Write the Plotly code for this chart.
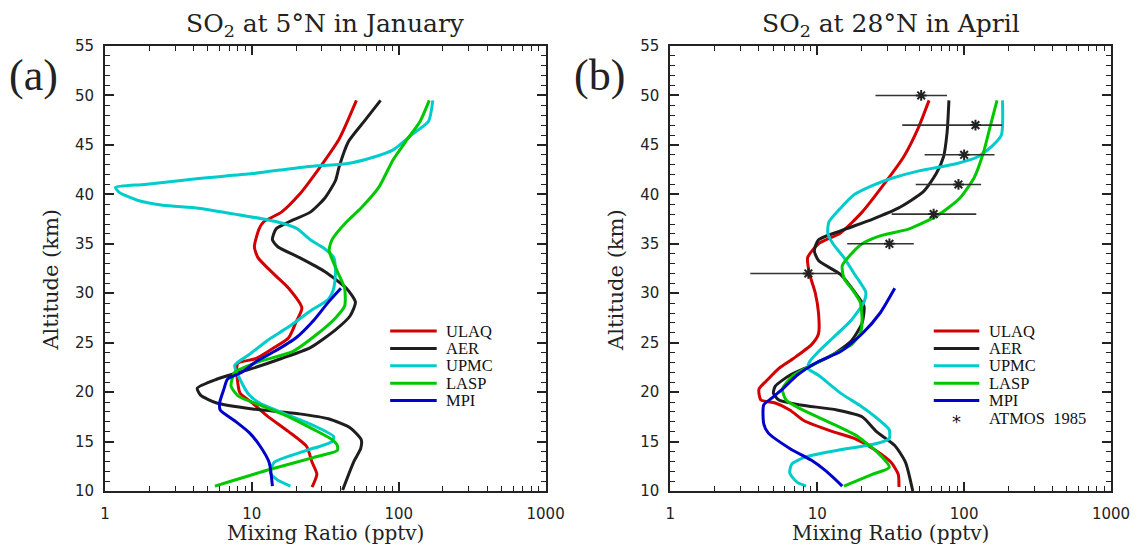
import plotly.graph_objects as go

# ---------------- data ----------------
models = ["ULAQ", "AER", "UPMC", "LASP", "MPI"]

# Panel (a): SO2 at 5N in January
ULAQ_a_alt = [49.5, 45.6, 42.4, 40.0, 38.2, 37.2, 36.5, 34.7, 33.6, 31.9, 30.5, 28.5, 27.1, 25.5, 24.5, 23.4, 22.9, 22.0, 19.9, 18.9, 17.6, 16.0, 14.5, 12.9, 11.7, 10.4]
ULAQ_a_val = [51.5, 39.3, 28.0, 21.1, 15.9, 12.0, 11.2, 10.4, 11.0, 14.2, 17.8, 21.9, 20.0, 17.8, 14.2, 10.7, 8.0, 7.9, 8.3, 10.1, 12.7, 17.8, 23.6, 25.7, 27.7, 25.7]

AER_a_alt = [49.5, 47.4, 45.3, 42.8, 41.4, 39.6, 38.2, 37.2, 36.5, 35.4, 34.7, 33.6, 32.2, 30.5, 29.1, 27.7, 26.3, 24.5, 23.4, 22.4, 21.3, 20.4, 19.7, 18.9, 18.3, 17.8, 17.3, 16.4, 15.2, 14.3, 12.9, 10.1]
AER_a_val = [75.2, 58.3, 45.3, 39.3, 37.1, 31.3, 25.0, 17.8, 14.6, 13.8, 15.0, 21.1, 31.3, 44.0, 50.7, 46.6, 37.1, 25.0, 15.9, 10.1, 5.76, 4.25, 4.47, 5.76, 10.1, 21.1, 33.2, 46.6, 55.5, 55.1, 49.2, 41.5]

UPMC_a_alt = [49.5, 47.4, 46.0, 44.5, 43.7, 43.1, 42.8, 42.1, 41.6, 41.0, 40.7, 40.2, 39.4, 38.9, 38.6, 38.0, 37.5, 37.0, 36.5, 35.4, 34.5, 33.6, 32.2, 30.5, 29.4, 28.2, 26.6, 25.2, 23.8, 22.7, 21.3, 19.7, 18.9, 17.8, 16.6, 15.5, 15.0, 14.1, 12.9, 11.8, 11.1, 10.5]
UPMC_a_val = [170.6, 159.6, 121.7, 91.6, 65.3, 44.0, 23.6, 10.1, 4.34, 1.86, 1.18, 1.25, 1.66, 2.47, 4.34, 7.64, 12.0, 16.8, 20.5, 25.0, 31.3, 36.1, 37.1, 36.1, 33.2, 25.0, 17.8, 12.7, 9.6, 7.64, 8.3, 9.6, 11.3, 16.8, 26.5, 36.1, 35.1, 23.6, 14.2, 13.4, 15.0, 18.3]

LASP_a_alt = [49.5, 47.4, 45.6, 43.5, 40.7, 38.6, 37.2, 35.4, 34.3, 32.2, 30.5, 28.7, 27.5, 25.9, 24.1, 23.1, 22.0, 20.6, 19.6, 18.7, 17.5, 16.2, 15.2, 14.6, 14.1, 13.4, 12.2, 10.5]
LASP_a_val = [161.4, 140.0, 114.8, 91.6, 73.1, 55.2, 44.0, 35.1, 33.6, 38.2, 42.8, 42.8, 37.1, 28.0, 18.9, 11.3, 7.64, 7.22, 8.08, 11.3, 17.8, 26.5, 35.1, 38.2, 38.2, 26.5, 13.4, 5.6]

MPI_a_alt = [30.5, 29.1, 27.3, 25.5, 24.1, 23.1, 22.0, 21.3, 20.3, 18.9, 18.2, 17.1, 15.9, 14.6, 12.9, 10.5]
MPI_a_val = [40.4, 33.2, 26.5, 20.0, 14.2, 10.7, 8.55, 6.82, 6.45, 6.03, 6.09, 7.64, 9.6, 11.3, 13.1, 13.8]

# Panel (b): SO2 at 28N in April
ULAQ_b_alt = [49.5, 46.7, 43.8, 41.0, 38.2, 36.1, 35.0, 33.6, 31.9, 30.1, 28.0, 25.9, 24.8, 23.4, 22.4, 21.3, 20.3, 19.2, 18.9, 18.2, 17.1, 16.0, 15.3, 14.3, 12.9, 11.7, 10.4]
ULAQ_b_val = [57.7, 48.7, 38.8, 28.4, 20.2, 14.4, 10.2, 8.6, 8.88, 9.67, 10.2, 10.2, 9.14, 6.88, 5.48, 4.62, 4.01, 4.13, 5.18, 6.5, 8.15, 12.8, 18.0, 23.9, 31.8, 35.6, 36.0]

AER_b_alt = [49.5, 46.3, 43.8, 42.1, 40.3, 38.6, 37.5, 36.3, 35.4, 34.3, 33.3, 31.9, 30.1, 28.7, 27.0, 25.2, 23.8, 22.7, 21.7, 20.6, 19.9, 19.2, 18.7, 18.2, 17.5, 16.0, 14.6, 12.9, 10.0]
AER_b_val = [78.8, 76.6, 72.4, 64.6, 53.0, 35.6, 23.9, 14.4, 10.2, 9.55, 10.2, 14.4, 18.0, 20.8, 20.2, 17.1, 12.8, 9.14, 6.5, 5.18, 5.03, 5.48, 7.7, 13.6, 20.2, 25.3, 33.7, 39.9, 44.7]

UPMC_b_alt = [49.5, 46.0, 44.9, 43.8, 43.1, 42.4, 41.6, 40.9, 40.0, 38.6, 37.2, 36.1, 35.0, 33.6, 31.9, 30.1, 29.1, 27.3, 25.5, 24.1, 23.1, 22.4, 21.7, 19.9, 18.5, 17.1, 16.2, 15.3, 14.8, 14.1, 13.4, 12.7, 11.8, 10.9, 10.5]
UPMC_b_val = [182.5, 179.4, 155.6, 124.1, 88.3, 50.1, 31.8, 23.9, 18.0, 14.4, 12.0, 11.8, 12.8, 15.2, 18.0, 21.4, 20.8, 17.1, 12.8, 10.2, 8.88, 8.63, 10.2, 14.4, 20.2, 26.8, 30.9, 30.9, 25.3, 13.6, 8.15, 6.69, 6.5, 7.28, 8.39]

LASP_b_alt = [49.5, 47.0, 44.2, 41.7, 39.6, 37.9, 36.5, 35.8, 35.0, 34.0, 32.8, 31.5, 30.5, 29.1, 27.3, 25.9, 24.8, 23.8, 22.7, 21.7, 20.3, 19.2, 18.3, 17.1, 15.7, 14.0, 12.4, 11.7, 10.5]
LASP_b_val = [167.5, 151.3, 135.2, 117.2, 93.4, 66.5, 42.2, 26.8, 20.2, 17.1, 14.8, 15.2, 17.1, 19.6, 20.2, 19.6, 17.1, 12.8, 9.14, 6.88, 5.8, 6.14, 7.7, 11.5, 18.0, 25.3, 30.9, 23.9, 15.2]

MPI_b_alt = [30.5, 28.0, 25.9, 24.1, 23.1, 21.7, 20.3, 19.4, 18.7, 16.8, 15.9, 14.3, 13.1, 12.0, 10.5]
MPI_b_val = [33.7, 26.8, 20.2, 14.4, 10.2, 7.28, 5.8, 4.9, 4.32, 4.32, 4.62, 6.5, 9.14, 11.5, 14.8]

# ATMOS 1985 observations (panel b) with ranges
ATMOS_alt = [50, 47, 44, 41, 38, 35, 32]
ATMOS_val = [51.0, 119.5, 100.0, 91.5, 62.0, 31.0, 8.7]
ATMOS_lo = [24.9, 37.9, 53.8, 46.8, 32.1, 16.0, 3.5]
ATMOS_hi = [76.5, 181.5, 161.0, 130.5, 121.0, 45.4, 13.8]

x_tickvals = [1, 10, 100, 1000]
x_ticktext = ["1", "10", "100", "1000"]
y_tickvals = [10, 15, 20, 25, 30, 35, 40, 45, 50, 55]

panel_titles = ["SO<sub>2</sub> at 5°N in January", "SO<sub>2</sub> at 28°N in April"]
panel_tags = ["(a)", "(b)"]
x_title = "Mixing Ratio (pptv)"
y_title = "Altitude (km)"

# ---------------- styling ----------------
colors = {"ULAQ": "#d20000", "AER": "#1e1e1e", "UPMC": "#00cccc", "LASP": "#00c800", "MPI": "#0000cc"}

W, H = 1142, 545
L, R, T, B = 105, 21, 46, 54
PW, PH = W - L - R, H - T - B


def fx(px):
    return (px - L) / PW


def fy(py):
    return 1 - (py - T) / PH


fig = go.Figure()

panel_data = [
    {"ULAQ": (ULAQ_a_alt, ULAQ_a_val), "AER": (AER_a_alt, AER_a_val), "UPMC": (UPMC_a_alt, UPMC_a_val),
     "LASP": (LASP_a_alt, LASP_a_val), "MPI": (MPI_a_alt, MPI_a_val)},
    {"ULAQ": (ULAQ_b_alt, ULAQ_b_val), "AER": (AER_b_alt, AER_b_val), "UPMC": (UPMC_b_alt, UPMC_b_val),
     "LASP": (LASP_b_alt, LASP_b_val), "MPI": (MPI_b_alt, MPI_b_val)},
]

for i, pdat in enumerate(panel_data):
    xa = "x" if i == 0 else "x2"
    ya = "y" if i == 0 else "y2"
    for m in models:
        alt, val = pdat[m]
        fig.add_trace(go.Scatter(
            x=val, y=alt, mode="lines", name=m, xaxis=xa, yaxis=ya,
            line=dict(color=colors[m], width=3, shape="spline", smoothing=0.6),
            showlegend=False, hoverinfo="skip"))

err_plus = [h - v for h, v in zip(ATMOS_hi, ATMOS_val)]
err_minus = [v - l for v, l in zip(ATMOS_val, ATMOS_lo)]
fig.add_trace(go.Scatter(
    x=ATMOS_val, y=ATMOS_alt, mode="markers", name="ATMOS 1985", xaxis="x2", yaxis="y2",
    marker=dict(symbol="asterisk-open", size=9, color="#222222", line=dict(color="#222222", width=2)),
    error_x=dict(type="data", symmetric=False, array=err_plus, arrayminus=err_minus,
                 color="#333333", thickness=1.6, width=0),
    showlegend=False, hoverinfo="skip"))

tickfont = dict(family="DejaVu Sans", size=15, color="#222222")
common_x = dict(type="log", range=[0, 3], tickvals=x_tickvals, ticktext=x_ticktext,
                ticks="inside", ticklen=9, tickwidth=1.5, tickcolor="#222222",
                showline=True, linewidth=2, linecolor="#222222", mirror="allticks",
                showgrid=False, zeroline=False, tickfont=tickfont, ticklabelstandoff=8,
                minor=dict(ticks="inside", ticklen=5, tickwidth=1.2, tickcolor="#222222",
                           dtick="D1", showgrid=False))
common_y = dict(range=[10, 55], tickvals=y_tickvals,
                ticks="inside", ticklen=9, tickwidth=1.5, tickcolor="#222222",
                showline=True, linewidth=2, linecolor="#222222", mirror="allticks",
                showgrid=False, zeroline=False, tickfont=tickfont, ticklabelstandoff=6,
                minor=dict(ticks="inside", ticklen=5, tickwidth=1.2, tickcolor="#222222",
                           dtick=1, showgrid=False))

fig.update_layout(
    width=W, height=H, margin=dict(l=L, r=R, t=T, b=B),
    paper_bgcolor="white", plot_bgcolor="white", showlegend=False,
    xaxis=dict(domain=[0, fx(550)], anchor="y", **common_x),
    yaxis=dict(domain=[0, 1], anchor="x", **common_y),
    xaxis2=dict(domain=[fx(676), 1], anchor="y2", **common_x),
    yaxis2=dict(domain=[0, 1], anchor="x2", **common_y),
)

annotations = []
shapes = []
serif = "DejaVu Serif"
panel_lefts = [105, 676]
panel_rights = [550, 1121]
for i in range(2):
    cx = (panel_lefts[i] + panel_rights[i]) / 2
    annotations.append(dict(text=panel_titles[i], x=fx(cx), y=fy(25), xref="paper", yref="paper",
                            showarrow=False, xanchor="center", yanchor="middle",
                            font=dict(family=serif, size=25, color="#222222")))
    annotations.append(dict(text=x_title, x=fx(cx), y=fy(533), xref="paper", yref="paper",
                            showarrow=False, xanchor="center", yanchor="middle",
                            font=dict(family=serif, size=20, color="#222222")))
    annotations.append(dict(text=y_title, x=fx(panel_lefts[i] - 55), y=fy(280), xref="paper", yref="paper",
                            showarrow=False, xanchor="center", yanchor="middle", textangle=-90,
                            font=dict(family=serif, size=21, color="#222222")))
    annotations.append(dict(text=panel_tags[i], x=fx(panel_lefts[i] - 72), y=fy(76), xref="paper", yref="paper",
                            showarrow=False, xanchor="center", yanchor="middle",
                            font=dict(family="Liberation Serif", size=44, color="#222222")))

# manual legends
leg_x0 = [393, 942]
leg_x1 = [440, 988]
leg_tx = [448, 997]
leg_y0 = 331
leg_dy = 17.4
leg_font = dict(family="Liberation Serif", size=16.5, color="#111111")
for i in range(2):
    for k, m in enumerate(models):
        yy = leg_y0 + k * leg_dy
        shapes.append(dict(type="line", xref="paper", yref="paper",
                           x0=fx(leg_x0[i]), x1=fx(leg_x1[i]), y0=fy(yy), y1=fy(yy),
                           line=dict(color=colors[m], width=3)))
        annotations.append(dict(text=m, x=fx(leg_tx[i]), y=fy(yy), xref="paper", yref="paper",
                                showarrow=False, xanchor="left", yanchor="middle",
                                borderpad=0, font=leg_font))
yy = leg_y0 + 5 * leg_dy
annotations.append(dict(text="*", x=fx((leg_x0[1] + leg_x1[1]) / 2), y=fy(yy + 3), xref="paper", yref="paper",
                        showarrow=False, xanchor="center", yanchor="middle", borderpad=0,
                        font=dict(family="DejaVu Sans", size=18, color="#111111")))
annotations.append(dict(text="ATMOS  1985", x=fx(leg_tx[1]), y=fy(yy), xref="paper", yref="paper",
                        showarrow=False, xanchor="left", yanchor="middle", borderpad=0,
                        font=leg_font))

fig.update_layout(annotations=annotations, shapes=shapes)
fig.write_html("out.html")
